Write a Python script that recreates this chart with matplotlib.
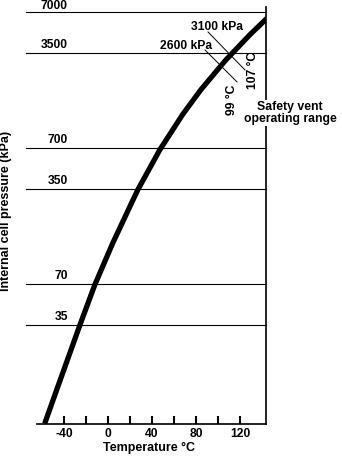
import matplotlib
matplotlib.use("Agg")
import matplotlib.pyplot as plt

plt.rcParams['font.family'] = ['Liberation Sans', 'DejaVu Sans']
plt.rcParams['font.weight'] = 'bold'

# vapour pressure curve, temperature (C) vs internal pressure (kPa)
temps = [-57.5, -45, -25.5, -12, 4.5, 27, 47, 68, 84, 99, 107, 129, 144.5]
pressures = [6.6, 12.7, 35, 69, 141, 344, 677, 1240, 1860, 2600, 3100, 4770, 6300]

grid_levels = [35, 70, 350, 700, 3500, 7000]
x_ticks = [-40, -20, 0, 20, 40, 60, 80, 100, 120]
x_labels = ['-40', '', '0', '', '40', '', '80', '', '120']

W, H = 342, 461
fig = plt.figure(figsize=(W / 100, H / 100), dpi=100)
ax = fig.add_axes([37 / W, 1 - 424 / H, 229 / W, 417 / H])

ax.set_yscale('log')
ax.set_xlim(-64.5, 143.6)
ax.set_ylim(6.55, 7620)

for s in ['left', 'top']:
    ax.spines[s].set_visible(False)
ax.spines['right'].set_linewidth(1.2)
ax.spines['bottom'].set_linewidth(1.2)

ax.tick_params(axis='y', which='both', left=False, labelleft=False)
ax.set_xticks(x_ticks)
ax.set_xticklabels(x_labels)
ax.tick_params(axis='x', direction='in', length=5.8, width=1.5, pad=3,
               labelsize=8.7)
ax.xaxis.set_minor_locator(matplotlib.ticker.NullLocator())

# horizontal reference lines with their labels sitting on top
ytrans = ax.get_yaxis_transform()
for p in grid_levels:
    ax.plot([-0.048, 1], [p, p], transform=ytrans, color='black', lw=0.8,
            clip_on=False)
    lift = 0 if p == max(grid_levels) else 1.5
    ax.annotate(str(p), xy=(0.135, p), xycoords=ytrans, xytext=(0, lift),
                textcoords='offset points', ha='right', va='bottom',
                fontsize=8.7, annotation_clip=False)

ax.plot(temps, pressures, color='black', lw=3.8, solid_capstyle='butt',
        solid_joinstyle='round', zorder=5)

# vent opening points
ax.plot([90.9, 124.5], [4994, 2625], color='black', lw=0.7)
ax.plot([88.2, 117.3], [3679, 2142], color='black', lw=0.7)
ax.text(99, 5436, '3100 kPa', ha='center', va='center', fontsize=8.7)
ax.text(71, 3940, '2600 kPa', ha='center', va='center', fontsize=8.7)
ax.text(132, 2625, '107 °C', rotation=90, ha='center', va='center', fontsize=8.7)
ax.text(113, 1580, '99 °C', rotation=90, ha='center', va='center', fontsize=8.7)

fig.text(290 / W, 1 - 113 / H, 'Safety vent\noperating range', ha='center',
         va='center', fontsize=8.8, linespacing=1.0,
         bbox=dict(facecolor='white', edgecolor='none', pad=1))

fig.text(149 / W, 1 - 448 / H, 'Temperature °C', ha='center', va='center',
         fontsize=9)
fig.text(6 / W, 1 - 211 / H, 'Internal cell pressure (kPa)', rotation=90,
         ha='center', va='center', fontsize=9)

fig.savefig('out.png', dpi=100)
